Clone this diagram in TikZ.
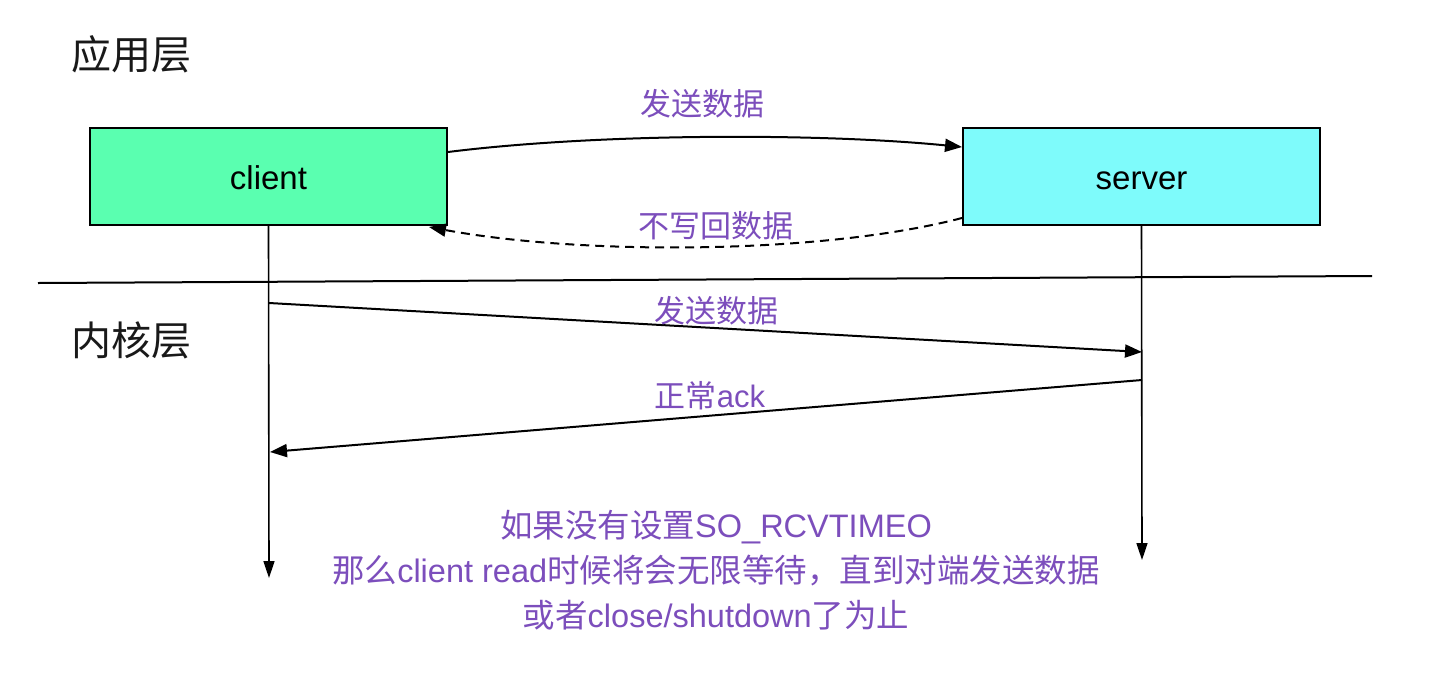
\documentclass[tikz,border=0pt]{standalone}
\usepackage{fontspec}
\setmainfont{Liberation Sans}
\newfontfamily\cjk{Noto Sans CJK SC}
\usetikzlibrary{arrows.meta}
\definecolor{clientfill}{RGB}{90,255,176}
\definecolor{serverfill}{RGB}{126,251,251}
\definecolor{lbl}{RGB}{124,78,188}
\begin{document}
\begin{tikzpicture}[x=1pt,y=-1pt,
  box/.style={draw=black,line width=2pt,minimum width=357pt,minimum height=97pt,inner sep=0pt,text height=26pt,text depth=0pt,font=\fontsize{33}{40}\selectfont},
  layer/.style={font=\cjk\fontsize{40}{48}\selectfont,text=black!90},
  plabel/.style={font=\fontsize{31}{37}\selectfont,text=lbl},
  msg/.style={line width=2pt,-{Triangle[length=17pt,width=13pt]}},
  life/.style={line width=1.6pt,-{Triangle[length=17pt,width=11pt]}}]
\useasboundingbox (0,0) rectangle (1456,678);
\fill[white] (0,0) rectangle (1456,678);
\node[layer] (app) at (131,54) {应用层};
\node[layer] (kern) at (131,340) {内核层};
\node[box,fill=clientfill] (client) at (268.5,176.5) {client};
\node[box,fill=serverfill] (server) at (1141.5,176.5) {server};
% separator
\coordinate (sepL) at (38,283);
\coordinate (sepR) at (1372,276);
\draw[line width=2pt] (sepL) -- (sepR);
% lifelines
\coordinate (cEnd) at (269,578);
\coordinate (sEnd) at (1142,560);
\draw[life] (client.south) -- (cEnd);
\draw[life] (server.south) -- (sEnd);
% app layer messages
\draw[msg] ([yshift=24.5pt]client.east) .. controls (600,133) and (820,133) .. ([yshift=29.5pt]server.west);
\node[plabel] (l1) at (702,104) {\cjk 发送数据};
\draw[msg,dashed,dash pattern=on 9pt off 6pt] ([yshift=-41.5pt]server.west) .. controls (820,255) and (580,255) .. (429,227);
\node[plabel] (l2) at (716,226) {\cjk 不写回数据};
% kernel messages
\coordinate (k1) at (269,303);
\coordinate (k2) at (1142,352);
\coordinate (k3) at (1142,380);
\coordinate (k4) at (270,452);
\draw[msg] (k1) -- (k2);
\node[plabel] (l3) at (716,311) {\cjk 发送数据};
\draw[msg] (k3) -- (k4);
\node[plabel] (l4) at (710,396) {{\cjk 正常}ack};
% note
\node[plabel,align=center,font=\fontsize{32.5}{39}\selectfont] (note) at (716,570) {{\cjk 如果没有设置}SO\_RCVTIMEO\\[6pt]{\cjk 那么}client read{\cjk 时候将会无限等待，直到对端发送数据}\\[6pt]{\cjk 或者}close/shutdown{\cjk 了为止}};
\end{tikzpicture}
\end{document}
